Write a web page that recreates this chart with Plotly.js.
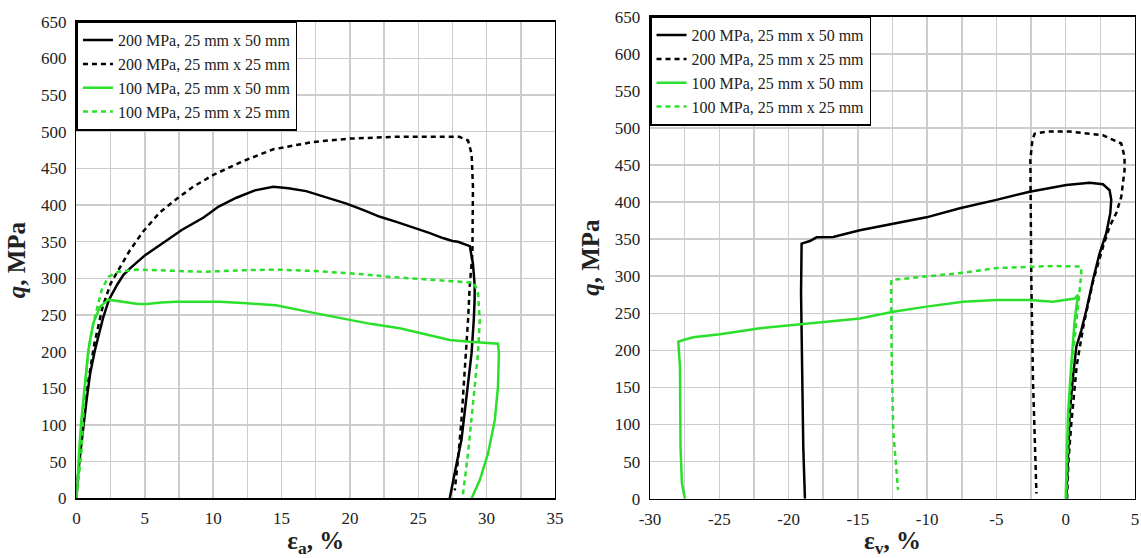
<!DOCTYPE html>
<html>
<head>
<meta charset="utf-8">
<script src="https://cdn.plot.ly/plotly-3.0.1.min.js"></script>
<style>html,body{margin:0;padding:0;background:#fff;}#chart{width:1141px;height:558px;}</style>
</head>
<body>
<div id="chart"></div>
<script>
// ---- Series names ----
const names = ["200 MPa, 25 mm x 50 mm", "200 MPa, 25 mm x 25 mm", "100 MPa, 25 mm x 50 mm", "100 MPa, 25 mm x 25 mm"];

// ---- Tick labels ----
const xTicksA = [0, 5, 10, 15, 20, 25, 30, 35];
const xTickTextA = ["0", "5", "10", "15", "20", "25", "30", "35"];
const xTicksV = [-30, -25, -20, -15, -10, -5, 0, 5];
const xTickTextV = ["-30", "-25", "-20", "-15", "-10", "-5", "0", "5"];

// ---- Left panel: q vs axial strain (%) ----
const ea_200_50 = [0, 0.1, 0.31, 0.5, 0.74, 1.0, 1.35, 1.96, 2.38, 3.0, 3.44, 4.0, 4.5, 5.05, 6.38, 7.7, 9.3, 10.4, 11.7, 13.05, 14.4, 15.5, 16.8, 18.2, 19.75, 21.0, 22.2, 23.4, 24.6, 25.8, 26.8, 27.5, 27.9, 28.77, 29.0, 29.13, 29.12, 29.06, 28.9, 28.7, 28.5, 28.16, 27.67, 27.3];
const q_200_50a = [0, 30, 66, 100, 134, 170, 202, 247, 271, 292, 305, 315, 323, 332, 349, 366, 383, 398, 410, 420, 425, 423, 419, 411, 402, 393, 384, 377, 370, 362, 355, 351, 350, 344, 320, 290, 270, 243, 198, 165, 130, 80, 35, 0];

const ea_200_25 = [0, 0.1, 0.3, 0.7, 1.3, 1.9, 2.5, 2.94, 3.42, 3.9, 4.88, 6.1, 7.3, 8.54, 10, 12.2, 14.4, 17.3, 20, 23.2, 26, 28, 28.64, 28.9, 29.0, 29.0, 28.96, 28.76, 28.64, 28.4, 28.16, 27.9, 27.67];
const q_200_25a = [0, 30, 70, 140, 210, 260, 293, 307, 323, 338, 364, 390, 408, 425, 441, 460, 476, 486, 490.6, 493, 493, 493, 488, 470, 425, 379, 334, 288, 243, 175, 107, 52, 11];

const ea_100_50 = [0, 0.08, 0.2, 0.35, 0.5, 0.87, 1.23, 1.72, 2.33, 3.0, 3.67, 4.5, 5.13, 6.2, 7.3, 9.0, 10.5, 12.44, 14.6, 17.07, 20, 21.5, 23.65, 25, 26.2, 27.3, 28.77, 30.0, 30.83, 30.9, 30.83, 30.6, 30.1, 29.5, 28.9];
const q_100_50a = [0, 30, 66, 105, 134, 202, 239, 261, 271, 269, 268, 265, 265, 267, 268, 268, 268, 266, 263.5, 254, 243, 238, 232, 226, 220, 216, 213.5, 212, 211, 198, 152, 107, 61, 25, 0];

const ea_100_25 = [0, 0.13, 0.38, 0.55, 0.8, 0.99, 1.35, 1.84, 2.33, 3.06, 4.4, 6.1, 9.27, 12, 14.6, 17.5, 20.7, 23, 25.6, 27.5, 29.1, 29.37, 29.5, 29.37, 29.13, 28.9, 28.64, 28.4, 28.23];
const q_100_25a = [0, 21, 66, 130, 190, 216, 247, 284, 302, 309, 312, 311, 309, 311, 312, 310, 306, 302, 298.5, 296, 294, 279, 243, 198, 152, 107, 61, 25, 0];

// ---- Right panel: q vs volumetric strain (%) ----
const ev_200_50 = [0.05, 0.17, 0.29, 0.53, 0.77, 1.13, 1.49, 1.97, 2.45, 2.93, 3.22, 3.29, 3.17, 2.69, 1.73, 0.05, -2.6, -5.0, -7.64, -10.05, -12.45, -14.86, -16.78, -17.98, -18.46, -19.06, -19.1, -19.06, -18.94, -18.82];
const q_200_50v = [0, 70, 115, 165, 205, 227, 254, 295, 331, 358, 385, 403, 416, 424, 426, 423, 414, 403, 391.6, 379.4, 371, 362, 353, 352.5, 347.5, 344, 277, 205, 70, 0];

const ev_200_25 = [0.1, 0.2, 0.4, 0.8, 1.3, 2.0, 2.7, 3.17, 3.65, 4.01, 4.25, 4.25, 4.01, 2.69, 0.29, -1.4, -2.24, -2.4, -2.55, -2.48, -2.36, -2.24, -2.11];
const q_200_25v = [0, 50, 100, 180, 235, 295, 340, 367, 385, 407, 443, 461, 479, 490, 495, 495, 492, 484, 457, 295, 160, 70, 7];

const ev_100_50 = [0, 0.08, 0.17, 0.41, 0.65, 0.89, 0.65, -0.92, -2.6, -5.0, -7.4, -10.05, -12.45, -14.86, -17.26, -19.18, -22.07, -24.95, -26.88, -27.6, -27.96, -27.84, -27.8, -27.7, -27.48];
const q_100_50v = [0, 60, 115, 182.6, 241, 275, 270, 265.6, 268, 268, 265.6, 259, 252, 243, 238.7, 235, 229.8, 221.7, 217.6, 214, 211.7, 178, 70, 21, 0];

const ev_100_25 = [0.05, 0.2, 0.45, 0.75, 1.0, 1.13, 1.1, -0.92, -2.6, -5.0, -7.4, -10.05, -12.2, -12.57, -12.6, -12.57, -12.45, -12.1];
const q_100_25v = [0, 100, 180, 240, 280, 304, 313, 313.8, 313, 311, 304.7, 300, 295.8, 295, 290, 205, 92.6, 12];

// ---- Styles ----
const BLACK = '#000000';
const GREEN = '#2be02b';
const DOT = '5px,4px';
const FONT = 'Liberation Serif';

function tr(x, y, name, color, dash, xa, ya, leg, width) {
  return {x: x, y: y, name: name, type: 'scatter', mode: 'lines',
    line: {color: color, width: width, dash: dash},
    xaxis: xa, yaxis: ya, legend: leg, hoverinfo: 'skip'};
}

const data = [
  tr(ea_200_50, q_200_50a, names[0], BLACK, 'solid', 'x', 'y', 'legend', 2.5),
  tr(ea_200_25, q_200_25a, names[1], BLACK, DOT, 'x', 'y', 'legend', 2.5),
  tr(ea_100_50, q_100_50a, names[2], GREEN, 'solid', 'x', 'y', 'legend', 2.5),
  tr(ea_100_25, q_100_25a, names[3], GREEN, DOT, 'x', 'y', 'legend', 2.5),
  tr(ev_200_50, q_200_50v, names[0], BLACK, 'solid', 'x2', 'y2', 'legend2', 2.5),
  tr(ev_200_25, q_200_25v, names[1], BLACK, DOT, 'x2', 'y2', 'legend2', 2.5),
  tr(ev_100_50, q_100_50v, names[2], GREEN, 'solid', 'x2', 'y2', 'legend2', 2.5),
  tr(ev_100_25, q_100_25v, names[3], GREEN, DOT, 'x2', 'y2', 'legend2', 2.5)
];

const gridC = '#cccccc';
function xax(range, domain, title, anchor, tv, tt) {
  return {domain: domain, range: range, anchor: anchor,
    tickmode: 'array', tickvals: tv, ticktext: tt,
    showline: true, mirror: true, linecolor: '#000', linewidth: 1.5,
    showgrid: true, gridcolor: gridC, gridwidth: 1.5, zeroline: false,
    ticks: '', ticklabelstandoff: 4,
    minor: {dtick: 2.5, tick0: range[0], showgrid: true, gridcolor: gridC, gridwidth: 1.5},
    tickfont: {family: FONT, size: 17, color: '#222'},
    title: {text: title, font: {family: FONT, size: 25, color: '#222'}, standoff: 6}};
}
function yax(domain, anchor) {
  return {domain: domain, range: [0, 650], anchor: anchor, dtick: 50,
    showline: true, mirror: true, linecolor: '#000', linewidth: 1.5,
    showgrid: true, gridcolor: gridC, gridwidth: 1.5, zeroline: false,
    ticks: '', ticklabelstandoff: 5,
    tickfont: {family: FONT, size: 17, color: '#222'},
    title: {text: '<b><i>q</i>, MPa</b>', font: {family: FONT, size: 25, color: '#222'}, standoff: 8}};
}

const legStyle = {bgcolor: '#fff', bordercolor: '#000', borderwidth: 1.5,
  font: {family: FONT, size: 16, color: '#222'}, xanchor: 'left', yanchor: 'top', tracegroupgap: 0};

const layout = {
  width: 1141, height: 558,
  margin: {l: 0, r: 0, t: 0, b: 0},
  paper_bgcolor: '#fff', plot_bgcolor: '#fff',
  font: {family: FONT},
  showlegend: true,
  xaxis: xax([0, 35], [0.0670, 0.4864], '<b>ε<sub>a</sub>, %</b>', 'y', xTicksA, xTickTextA),
  yaxis: yax([0.1068, 0.9611], 'x'),
  xaxis2: xax([-30, 5], [0.5697, 0.9947], '<b>ε<sub>v</sub>, %</b>', 'y2', xTicksV, xTickTextV),
  yaxis2: yax([0.1063, 0.9701], 'x2'),
  legend: Object.assign({x: 0.0670, y: 0.9611}, legStyle),
  legend2: Object.assign({x: 0.5697, y: 0.9701}, legStyle)
};

Plotly.newPlot('chart', data, layout, {displayModeBar: false, staticPlot: true});
</script>
</body>
</html>
